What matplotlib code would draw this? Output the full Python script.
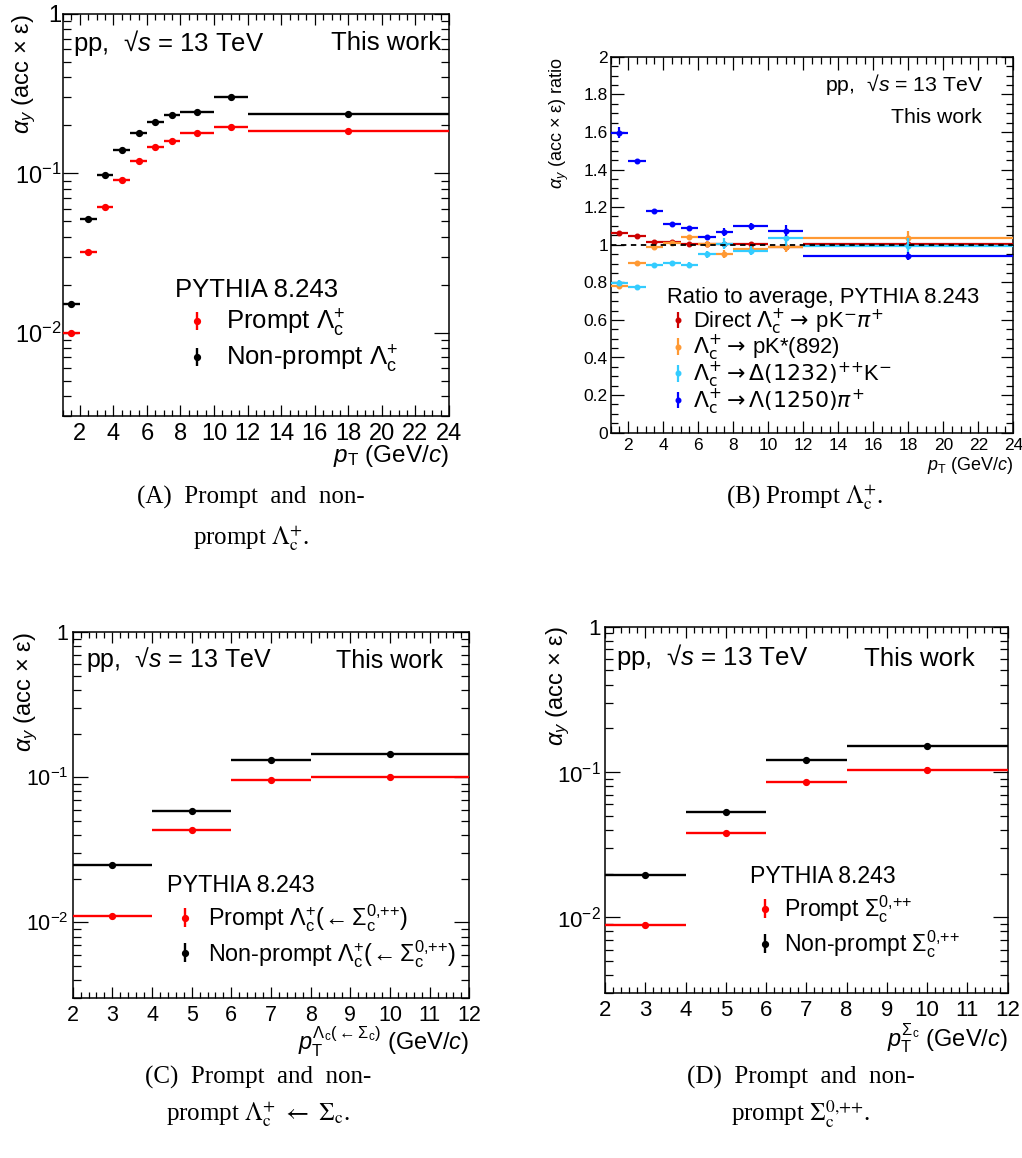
import numpy as np
import matplotlib
matplotlib.use("Agg")
import matplotlib.pyplot as plt
from matplotlib.ticker import (MultipleLocator, FixedLocator, FixedFormatter,
                               LogLocator, NullFormatter, FuncFormatter)
from matplotlib.container import ErrorbarContainer
from matplotlib.legend_handler import HandlerErrorbar

plt.rcParams['font.family'] = ['Liberation Sans', 'DejaVu Sans']
plt.rcParams['mathtext.fontset'] = 'custom'
plt.rcParams['mathtext.rm'] = 'Liberation Sans'
plt.rcParams['mathtext.it'] = 'Liberation Sans:italic'
plt.rcParams['mathtext.bf'] = 'Liberation Sans:bold'
plt.rcParams['mathtext.sf'] = 'Liberation Sans'

# ---------------- data ----------------
# (a) Lambda_c+ acceptance x efficiency vs pT
lc_edges = [1, 2, 3, 4, 5, 6, 7, 8, 10, 12, 24]
lc_prompt = [0.0100, 0.0322, 0.0616, 0.0904, 0.119, 0.1454, 0.1607, 0.178, 0.1966, 0.1857]
lc_prompt_err = [0.0003, 0.0006, 0.0010, 0.0013, 0.0017, 0.0020, 0.0022, 0.0022, 0.0028, 0.0025]
lc_nonprompt = [0.0152, 0.0516, 0.0972, 0.141, 0.180, 0.211, 0.232, 0.2416, 0.301, 0.237]
lc_nonprompt_err = [0.0004, 0.0008, 0.0012, 0.0015, 0.0018, 0.0020, 0.0022, 0.0022, 0.0030, 0.0025]

# (b) ratio of each decay channel to the average
ratio_direct = [1.062, 1.044, 1.012, 1.014, 1.005, 1.005, 1.005, 1.005, 0.988, 1.002]
ratio_direct_err = [0.005, 0.004, 0.006, 0.006, 0.006, 0.007, 0.008, 0.008, 0.012, 0.010]
ratio_kstar = [0.782, 0.902, 0.989, 1.009, 1.039, 1.005, 0.950, 0.977, 0.988, 1.035]
ratio_kstar_err = [0.006, 0.006, 0.010, 0.010, 0.013, 0.015, 0.020, 0.018, 0.025, 0.040]
ratio_delta = [0.798, 0.777, 0.892, 0.901, 0.894, 0.949, 1.005, 0.968, 1.035, 0.995]
ratio_delta_err = [0.015, 0.006, 0.010, 0.012, 0.013, 0.020, 0.030, 0.025, 0.040, 0.040]
ratio_lambda = [1.596, 1.443, 1.177, 1.108, 1.089, 1.041, 1.067, 1.098, 1.074, 0.941]
ratio_lambda_err = [0.030, 0.012, 0.010, 0.010, 0.012, 0.012, 0.020, 0.018, 0.030, 0.022]

# (c) Lambda_c+ from Sigma_c and (d) Sigma_c
sc_edges = [2, 4, 6, 8, 12]
lcsc_prompt = [0.0111, 0.0433, 0.0954, 0.1005]
lcsc_prompt_err = [0.0004, 0.0015, 0.0030, 0.0045]
lcsc_nonprompt = [0.0248, 0.0587, 0.131, 0.145]
lcsc_nonprompt_err = [0.0003, 0.0008, 0.0015, 0.0020]
sc_prompt = [0.00886, 0.0378, 0.0849, 0.104]
sc_prompt_err = [0.0004, 0.0013, 0.0028, 0.0045]
sc_nonprompt = [0.0195, 0.0533, 0.1216, 0.150]
sc_nonprompt_err = [0.0003, 0.0008, 0.0015, 0.0020]

RED = '#ff0000'
BLACK = '#000000'
DIRECT = '#cc0000'
ORANGE = '#ff9933'
CYAN = '#33ccff'
BLUE = '#0000ff'

W, H = 1022, 1158
fig = plt.figure(figsize=(W / 100, H / 100), dpi=100)


def add_axes(left, right, top, bottom):
    return fig.add_axes([left / W, 1 - bottom / H, (right - left) / W, (bottom - top) / H])


def binned(ax, edges, vals, errs, color, z=3, ms=4.2, lw=1.7):
    e = np.asarray(edges, float)
    x = 0.5 * (e[1:] + e[:-1])
    xe = 0.5 * (e[1:] - e[:-1])
    return ax.errorbar(x, vals, xerr=xe, yerr=errs, fmt='o', color=color, ms=ms,
                       lw=lw, elinewidth=lw, capsize=0, zorder=z, clip_on=True)


def proxy(ax, color, ms=4.2, lw=1.7):
    return ax.errorbar([np.nan], [np.nan], yerr=[np.nan], fmt='o', color=color,
                       ms=ms, elinewidth=lw, capsize=0)


def frame(ax, labelsize, xpad, ypad):
    for s in ax.spines.values():
        s.set_linewidth(1.1)
    ax.tick_params(which='both', direction='in', top=True, right=True,
                   width=0.9, colors='black')
    ax.tick_params(axis='x', which='both', labelsize=labelsize, pad=xpad)
    ax.tick_params(axis='y', which='both', labelsize=labelsize, pad=ypad)


def log_y(ax):
    ax.set_yscale('log')
    ax.set_ylim(0.003, 1)
    ax.yaxis.set_major_locator(FixedLocator([0.01, 0.1, 1]))
    ax.yaxis.set_major_formatter(FixedFormatter([r'$10^{-2}$', r'$10^{-1}$', '1']))
    ax.yaxis.set_minor_locator(LogLocator(base=10, subs=np.arange(2, 10)))
    ax.yaxis.set_minor_formatter(NullFormatter())
    ax.tick_params(axis='y', which='major', length=11)
    ax.tick_params(axis='y', which='minor', length=6)


SUP = r'\text{0,++}'

# ---------------- (a) ----------------
axA = add_axes(63, 449, 14, 416)
binned(axA, lc_edges, lc_prompt, lc_prompt_err, RED)
binned(axA, lc_edges, lc_nonprompt, lc_nonprompt_err, BLACK)
axA.set_xlim(1, 24)
log_y(axA)
axA.xaxis.set_major_locator(MultipleLocator(2))
axA.xaxis.set_minor_locator(MultipleLocator(0.5))
axA.tick_params(axis='x', which='major', length=8)
axA.tick_params(axis='x', which='minor', length=4)
frame(axA, 17, 5, 1)
axA.set_ylabel(r'$\alpha_{y}$ (acc × ε)', fontsize=17, loc='top')
axA.yaxis.set_label_coords(-0.065, 1.0)
axA.set_xlabel(r'$p_{\rm T}$ (GeV/$c$)', fontsize=17.5, loc='right')
axA.xaxis.set_label_coords(1.0, -0.068)
axA.text(0.026, 0.928, r'pp,  √$s$ = 13 TeV', transform=axA.transAxes,
         fontsize=18.5, ha='left', va='center')
axA.text(0.979, 0.928, 'This work', transform=axA.transAxes,
         fontsize=18.5, ha='right', va='center')
axA.text(0.29, 0.313, 'PYTHIA 8.243', transform=axA.transAxes,
         fontsize=18.5, ha='left', va='center')
axA.legend([proxy(axA, RED), proxy(axA, BLACK)],
           [r'Prompt $\Lambda_{\rm c}^{+}$', r'Non-prompt $\Lambda_{\rm c}^{+}$'],
           loc='center left', bbox_to_anchor=(0.313, 0.186), frameon=False,
           fontsize=18.5, handlelength=1.0, handletextpad=0.63, borderpad=0,
           borderaxespad=0, labelspacing=0.15,
           handler_map={ErrorbarContainer: HandlerErrorbar(yerr_size=0.36)}, numpoints=1)

# ---------------- (b) ----------------
axB = add_axes(610.7, 1013.3, 56.7, 432.7)
binned(axB, lc_edges, ratio_direct, ratio_direct_err, DIRECT, z=3, ms=3.3, lw=1.6)
binned(axB, lc_edges, ratio_kstar, ratio_kstar_err, ORANGE, z=4, ms=3.3, lw=1.6)
binned(axB, lc_edges, ratio_delta, ratio_delta_err, CYAN, z=5, ms=3.3, lw=1.6)
binned(axB, lc_edges, ratio_lambda, ratio_lambda_err, BLUE, z=6, ms=3.3, lw=1.6)
axB.axhline(1.0, color='black', ls=(0, (3, 2.5)), lw=1.3, zorder=7)
axB.set_xlim(1, 24)
axB.set_ylim(0, 2)
axB.xaxis.set_major_locator(MultipleLocator(2))
axB.xaxis.set_minor_locator(MultipleLocator(0.5))
axB.yaxis.set_major_locator(MultipleLocator(0.2))
axB.yaxis.set_minor_locator(MultipleLocator(0.05))
axB.yaxis.set_major_formatter(FuncFormatter(lambda v, p: f'{v:.1f}'.rstrip('0').rstrip('.') if v else '0'))
axB.tick_params(which='major', length=9)
axB.tick_params(which='minor', length=5)
frame(axB, 12.5, 4, 2)
axB.set_ylabel(r'$\alpha_{y}$ (acc × ε) ratio', fontsize=13, loc='top')
axB.yaxis.set_label_coords(-0.098, 1.0)
axB.set_xlabel(r'$p_{\rm T}$ (GeV/$c$)', fontsize=13, loc='right')
axB.xaxis.set_label_coords(1.0, -0.058)
axB.text(0.925, 0.925, r'pp,  √$s$ = 13 TeV', transform=axB.transAxes,
         fontsize=15.3, ha='right', va='center')
axB.text(0.921, 0.838, 'This work', transform=axB.transAxes,
         fontsize=15.3, ha='right', va='center')
axB.text(0.139, 0.36, 'Ratio to average, PYTHIA 8.243', transform=axB.transAxes,
         fontsize=15.8, ha='left', va='center')
legB = axB.legend([proxy(axB, DIRECT, 3.3, 1.6), proxy(axB, ORANGE, 3.3, 1.6),
                   proxy(axB, CYAN, 3.3, 1.6), proxy(axB, BLUE, 3.3, 1.6)],
                  [r'Direct $\Lambda_{\rm c}^{+}\rightarrow\,$pK$^{-}\pi^{+}$',
                   r'$\Lambda_{\rm c}^{+}\rightarrow\,$pK*(892)',
                   r'$\Lambda_{\rm c}^{+}\rightarrow\Delta(1232)^{\text{++}}$K$^{-}$',
                   r'$\Lambda_{\rm c}^{+}\rightarrow\Lambda(1250)\pi^{+}$'],
                  loc='center left', bbox_to_anchor=(0.151, 0.188), frameon=False,
                  fontsize=15.8, handlelength=0.6, handletextpad=0.38, borderpad=0,
                  borderaxespad=0, labelspacing=-0.12,
                  handler_map={ErrorbarContainer: HandlerErrorbar(yerr_size=0.38)},
                  numpoints=1)
# DejaVu math glyphs give full-width arrows in the decay labels
for t in legB.get_texts():
    t.set_math_fontfamily('dejavusans')


# ---------------- (c) and (d) ----------------
def sigma_panel(ax, prompt, prompt_err, nonprompt, nonprompt_err, xlabel,
                ylab_x, xlab_y, pp_pos, tw_pos, hdr_pos, leg_pos, labels,
                fs_txt, fs_leg, fs_tick, textpad):
    binned(ax, sc_edges, prompt, prompt_err, RED)
    binned(ax, sc_edges, nonprompt, nonprompt_err, BLACK)
    ax.set_xlim(2, 12)
    log_y(ax)
    ax.xaxis.set_major_locator(MultipleLocator(1))
    ax.xaxis.set_minor_locator(MultipleLocator(0.2))
    ax.tick_params(axis='x', which='major', length=8)
    ax.tick_params(axis='x', which='minor', length=4)
    frame(ax, fs_tick, 4.5, 3)
    ax.set_ylabel(r'$\alpha_{y}$ (acc × ε)', fontsize=17, loc='top')
    ax.yaxis.set_label_coords(ylab_x, 1.0)
    ax.set_xlabel(xlabel, fontsize=17, loc='right')
    ax.xaxis.set_label_coords(1.0, xlab_y)
    ax.text(pp_pos[0], pp_pos[1], r'pp,  √$s$ = 13 TeV', transform=ax.transAxes,
            fontsize=fs_txt, ha='left', va='center')
    ax.text(tw_pos[0], tw_pos[1], 'This work', transform=ax.transAxes,
            fontsize=fs_txt, ha='right', va='center')
    ax.text(hdr_pos[0], hdr_pos[1], 'PYTHIA 8.243', transform=ax.transAxes,
            fontsize=fs_leg, ha='left', va='center')
    return ax.legend([proxy(ax, RED), proxy(ax, BLACK)], labels,
                     loc='center left', bbox_to_anchor=leg_pos, frameon=False,
                     fontsize=fs_leg, handlelength=0.8, handletextpad=textpad, borderpad=0,
                     borderaxespad=0, labelspacing=0.15,
                     handler_map={ErrorbarContainer: HandlerErrorbar(yerr_size=0.4)},
                     numpoints=1)


axC = add_axes(72.7, 469.3, 632.3, 998.3)
sigma_panel(axC, lcsc_prompt, lcsc_prompt_err, lcsc_nonprompt, lcsc_nonprompt_err,
            r'$p_{\rm T}^{\Lambda_{\rm c}(\leftarrow\Sigma_{\rm c})}$ (GeV/$c$)',
            -0.082, -0.072, (0.034, 0.926), (0.934, 0.922), (0.237, 0.307), (0.26, 0.170),
            [r'Prompt $\Lambda_{\rm c}^{+}$($\!\leftarrow\Sigma_{\rm c}^{' + SUP + r'}$)',
             r'Non-prompt $\Lambda_{\rm c}^{+}$($\!\leftarrow\Sigma_{\rm c}^{' + SUP + r'}$)'],
            18, 16.8, 15.5, 0.6)

axD = add_axes(605, 1007.7, 626.7, 993.3)
sigma_panel(axD, sc_prompt, sc_prompt_err, sc_nonprompt, sc_nonprompt_err,
            r'$p_{\rm T}^{\Sigma_{\rm c}}$ (GeV/$c$)',
            -0.082, -0.076, (0.027, 0.917), (0.919, 0.911), (0.36, 0.318), (0.375, 0.181),
            [r'Prompt $\Sigma_{\rm c}^{' + SUP + r'}$',
             r'Non-prompt $\Sigma_{\rm c}^{' + SUP + r'}$'],
            18.6, 16.6, 16, 0.4)

# ---------------- captions ----------------
cap = dict(fontsize=18, family=['Liberation Serif', 'DejaVu Serif'],
           math_fontfamily='stix', ha='center', va='center')
fig.text(251 / W, 1 - 497 / H, '(A)  Prompt  and  non-', **cap)
fig.text(251 / W, 1 - 538 / H, r'prompt $\Lambda_{\rm c}^{+}$.', **cap)
fig.text(805 / W, 1 - 497 / H, r'(B) Prompt $\Lambda_{\rm c}^{+}$.', **cap)
fig.text(258 / W, 1 - 1077 / H, '(C)  Prompt  and  non-', **cap)
fig.text(258 / W, 1 - 1114 / H, r'prompt $\Lambda_{\rm c}^{+}$ $\leftarrow$ $\Sigma_{\rm c}$.', **cap)
fig.text(801 / W, 1 - 1077 / H, '(D)  Prompt  and  non-', **cap)
fig.text(801 / W, 1 - 1114 / H, r'prompt $\Sigma_{\rm c}^{' + SUP + r'}$.', **cap)

fig.savefig('out.png', dpi=100)
